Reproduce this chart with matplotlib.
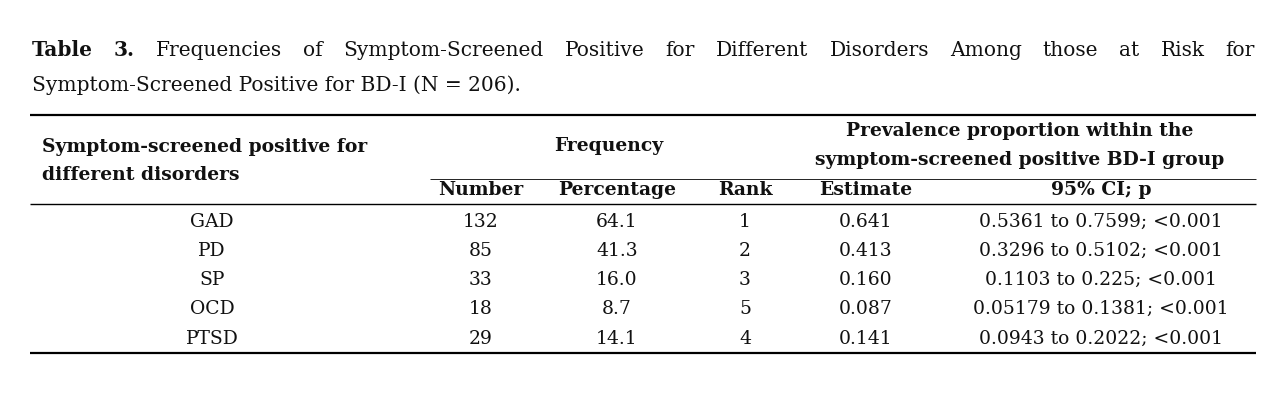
import matplotlib
matplotlib.use("Agg")
import matplotlib.pyplot as plt

disorders = ["GAD", "PD", "SP", "OCD", "PTSD"]
numbers = ["132", "85", "33", "18", "29"]
percentages = ["64.1", "41.3", "16.0", "8.7", "14.1"]
ranks = ["1", "2", "3", "5", "4"]
estimates = ["0.641", "0.413", "0.160", "0.087", "0.141"]
cis = ["0.5361 to 0.7599; <0.001", "0.3296 to 0.5102; <0.001", "0.1103 to 0.225; <0.001",
       "0.05179 to 0.1381; <0.001", "0.0943 to 0.2022; <0.001"]

W, H = 1288, 400
fig = plt.figure(figsize=(W/100, H/100), dpi=100)
ax = fig.add_axes([0, 0, 1, 1])
ax.set_xlim(0, W); ax.set_ylim(H, 0); ax.axis("off")
fam = "DejaVu Serif"
fs = 13.5

def t(x, y, s, ha="center", bold=False, size=fs):
    ax.text(x, y, s, ha=ha, va="center", fontsize=size, family=fam,
            fontweight="bold" if bold else "normal", color="#111")

# justified first title line
renderer = fig.canvas.get_renderer()
words = [("Table", True), ("3.", True)] + [(w, False) for w in
         "Frequencies of Symptom-Screened Positive for Different Disorders Among those at Risk for".split()]
arts = []
for w, b in words:
    a = ax.text(0, 50, w, fontsize=14.5, family=fam, va="center", ha="left",
                fontweight="bold" if b else "normal", color="#111")
    arts.append(a)
widths = [a.get_window_extent(renderer).width for a in arts]
x0, x1 = 32, 1255
gap = (x1 - x0 - sum(widths)) / (len(words) - 1)
x = x0
for a, wd in zip(arts, widths):
    a.set_x(x)
    x += wd + gap
ax.text(32, 85, "Symptom-Screened Positive for BD-I (N = 206).", fontsize=14.5, family=fam,
        va="center", ha="left", color="#111")

def hl(y, x0=30, x1=1256, lw=1.6):
    ax.plot([x0, x1], [y, y], color="black", lw=lw, solid_capstyle="butt")

hl(115); hl(204, lw=1.0); hl(353)
hl(179, 430, 1256, lw=0.6)

t(42, 147, "Symptom-screened positive for", ha="left", bold=True)
t(42, 175, "different disorders", ha="left", bold=True)
t(609, 146, "Frequency", bold=True)
t(1020, 131, "Prevalence proportion within the", bold=True)
t(1020, 160, "symptom-screened positive BD-I group", bold=True)
cols = [481, 617, 745, 866, 1101]
for x, s in zip(cols, ["Number", "Percentage", "Rank", "Estimate", "95% CI; p"]):
    t(x, 190, s, bold=True)

ys = [222, 251, 280, 309, 339]
for i, y in enumerate(ys):
    t(212, y, disorders[i])
    for x, s in zip(cols, [numbers[i], percentages[i], ranks[i], estimates[i], cis[i]]):
        t(x, y, s)

fig.savefig("out.png", dpi=100)
